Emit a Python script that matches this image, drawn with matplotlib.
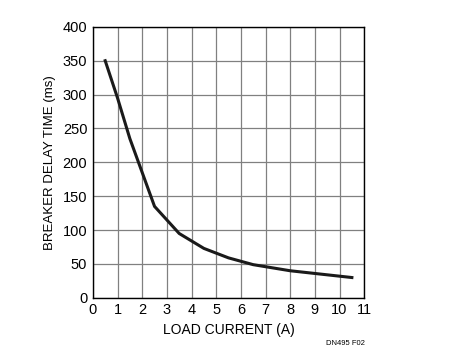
import matplotlib.pyplot as plt
import numpy as np

plt.rcParams.update({
    'font.family': ['Liberation Sans', 'DejaVu Sans'],
    'font.size': 10,
})

# breaker delay vs load current
load_current = [0.5, 1.0, 1.5, 2.0, 2.5, 3.0, 3.5, 4.0, 4.5, 5.0, 5.5,
                6.0, 6.5, 7.0, 7.5, 8.0, 8.5, 9.0, 9.5, 10.0, 10.5]
delay_ms = [350, 295, 235, 185, 135, 115, 95, 84, 73, 66, 59,
            54, 49, 46, 43, 40, 38, 36, 34, 32, 30]

x_ticks = list(range(0, 12))
y_ticks = list(range(0, 401, 50))

fig = plt.figure(figsize=(4.53, 3.58), dpi=100)
ax = fig.add_axes([0.205, 0.168, 0.599, 0.757])

ax.plot(load_current, delay_ms, color='#1a1a1a', linewidth=2.2, solid_joinstyle='miter')

ax.set_xlim(0, 11)
ax.set_ylim(0, 400)
ax.set_xticks(x_ticks)
ax.set_yticks(y_ticks)
ax.grid(True, color='#808080', linewidth=0.9)
ax.set_axisbelow(True)
for s in ax.spines.values():
    s.set_linewidth(1.0)
    s.set_color('black')
ax.tick_params(length=0, pad=4, labelsize=10.5)

ax.set_xlabel('LOAD CURRENT (A)', fontsize=10, labelpad=4)
ax.set_ylabel('BREAKER DELAY TIME (ms)', fontsize=9.5, labelpad=5)

fig.text(0.762, 0.04, 'DN495 F02', fontsize=5.5, ha='center', va='center')

fig.savefig('out.png', dpi=100)
